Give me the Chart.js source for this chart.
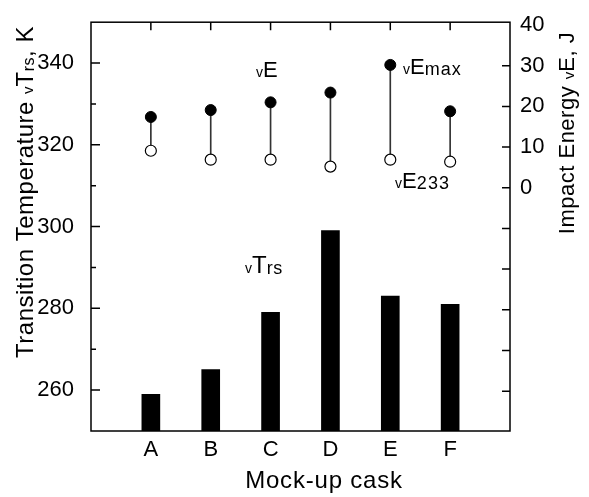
<!DOCTYPE html>
<html>
<head>
<meta charset="utf-8">
<title>Mock-up cask</title>
<script src="https://cdn.jsdelivr.net/npm/chart.js"></script>
<style>
    html, body { margin: 0; padding: 0; background: #fff; }
    #wrap { width: 589px; height: 497px; position: relative; }
</style>
</head>
<body>
<div id="wrap"><canvas id="caskChart"></canvas></div>
<script>
// Transition temperature (bars) and impact energy (dots) per mock-up cask

const categories = ['A', 'B', 'C', 'D', 'E', 'F'];
const transitionTemp = [259, 265, 279, 299, 283, 281];   // vTrs, K
const energyMax = [17.4, 19.1, 21.0, 23.4, 30.2, 18.8];  // vEmax, J
const energy233 = [9.1, 6.9, 6.9, 5.2, 6.9, 6.4];        // vE233, J
const tempTicks = [260, 280, 300, 320, 340];
const energyTicks = [0, 10, 20, 30, 40];
const energyBlankTicks = [-50, -40, -30, -20, -10];      // tick marks with no label

const FONT = '"Liberation Sans", Arial, sans-serif';

// one empty slot at each end of the x axis
const labels = [''].concat(categories, ['']);
function pad(arr) { return [null].concat(arr, [null]); }

// text made of pieces of different size (subscripts)
// part = [text, fontSize, letterSpacing, dy]
function drawRich(ctx, parts, x, y, angle, centered) {
    ctx.save();
    ctx.translate(x, y);
    if (angle) ctx.rotate(angle);
    ctx.fillStyle = '#000';
    ctx.textAlign = 'left';
    ctx.textBaseline = 'alphabetic';
    const widths = parts.map(function(p) {
        ctx.font = p[1] + 'px ' + FONT;
        ctx.letterSpacing = (p[2] || 0) + 'px';
        return ctx.measureText(p[0]).width;
    });
    const total = widths.reduce(function(s, w) { return s + w; }, 0);
    let cx = centered ? -total / 2 : 0;
    parts.forEach(function(p, i) {
        ctx.font = p[1] + 'px ' + FONT;
        ctx.letterSpacing = (p[2] || 0) + 'px';
        ctx.fillText(p[0], cx, p[3] || 0);
        cx += widths[i];
    });
    ctx.restore();
}

const framePlugin = {
    id: 'frame',
    afterDraw(chart) {
        const ctx = chart.ctx;
        const a = chart.chartArea;
        const x = chart.scales.x, y = chart.scales.y, y2 = chart.scales.y2;

        ctx.save();
        ctx.strokeStyle = '#000';
        ctx.lineWidth = 1.5;
        ctx.strokeRect(a.left, a.top, a.right - a.left, a.bottom - a.top);

        ctx.beginPath();
        // left axis, major and minor ticks pointing in
        tempTicks.forEach(function(v, i) {
            const py = y.getPixelForValue(v);
            ctx.moveTo(a.left, py); ctx.lineTo(a.left + 9, py);
            if (i < tempTicks.length - 1) {
                const pm = y.getPixelForValue((v + tempTicks[i + 1]) / 2);
                ctx.moveTo(a.left, pm); ctx.lineTo(a.left + 5, pm);
            }
        });
        // right axis
        energyTicks.concat(energyBlankTicks).forEach(function(v) {
            if (v === 40) return;
            const py = y2.getPixelForValue(v);
            ctx.moveTo(a.right, py); ctx.lineTo(a.right - 8, py);
        });
        // top ticks over each cask
        categories.forEach(function(c, i) {
            const px = x.getPixelForValue(i + 1);
            ctx.moveTo(px, a.top); ctx.lineTo(px, a.top + 8);
        });
        ctx.stroke();
        ctx.restore();

        // axis titles
        drawRich(ctx, [['Transition Temperature ', 24, 0.5], ['v', 15, 0], ['T', 24, 0.5], ['rs', 16, 0.5, 1], [', K', 24, 0.5]],
            33, 192, -Math.PI / 2, true);
        drawRich(ctx, [['Impact Energy ', 22, 0.5], ['v', 15, 0], ['E', 22, 0.5], [', J', 22, 0.5]],
            574, 133, -Math.PI / 2, true);
        drawRich(ctx, [['Mock-up cask', 24, 0.8]], 324, 488, 0, true);

        // labels inside the plot
        drawRich(ctx, [['v', 14, 0], ['E', 22, 0]], 256, 77);
        drawRich(ctx, [['v', 14, 0], ['E', 22, 0], ['max', 18, 1.0, 1]], 403, 74);
        drawRich(ctx, [['v', 14, 0], ['E', 22, 0], ['233', 18, 1.2, 1]], 395, 188);
        drawRich(ctx, [['v', 14, 0], ['T', 24, 0], ['rs', 18, 0.5, 1]], 245, 273);
    }
};

const ctx = document.getElementById('caskChart').getContext('2d');

new Chart(ctx, {
    type: 'bar',
    data: {
        labels: labels,
        datasets: [
            {
                type: 'line',
                label: 'vEmax',
                data: pad(energyMax),
                yAxisID: 'y2',
                showLine: false,
                pointRadius: 5.5,
                pointBackgroundColor: '#000',
                pointBorderColor: '#000',
                pointBorderWidth: 1,
                order: 1
            },
            {
                type: 'line',
                label: 'vE233',
                data: pad(energy233),
                yAxisID: 'y2',
                showLine: false,
                pointRadius: 5.5,
                pointBackgroundColor: '#fff',
                pointBorderColor: '#000',
                pointBorderWidth: 1.2,
                order: 2
            },
            {
                label: 'range',
                data: pad(categories.map(function(c, i) { return [energy233[i], energyMax[i]]; })),
                yAxisID: 'y2',
                backgroundColor: '#333',
                barThickness: 1,
                grouped: false,
                order: 3
            },
            {
                label: 'vTrs',
                data: pad(transitionTemp),
                yAxisID: 'y',
                backgroundColor: '#000',
                borderWidth: 0,
                barThickness: 18,
                grouped: false,
                order: 4
            }
        ]
    },
    options: {
        responsive: true,
        maintainAspectRatio: false,
        animation: false,
        layout: { padding: { top: 17, left: 0, right: 0, bottom: 0 } },
        plugins: {
            legend: { display: false },
            tooltip: { enabled: false }
        },
        scales: {
            x: {
                type: 'category',
                offset: false,
                grid: { display: false },
                border: { display: false },
                ticks: {
                    autoSkip: false,
                    maxRotation: 0,
                    padding: -2,
                    color: '#000',
                    font: { family: FONT, size: 22 }
                },
                afterFit: function(s) { s.height = 66; }
            },
            y: {
                position: 'left',
                min: 250,
                max: 350,
                grid: { display: false },
                border: { display: false },
                afterBuildTicks: function(s) {
                    s.ticks = tempTicks.map(function(v) { return { value: v }; });
                },
                ticks: {
                    padding: 9,
                    color: '#000',
                    font: { family: FONT, size: 22 }
                },
                afterFit: function(s) { s.width = 91; }
            },
            y2: {
                position: 'right',
                min: -59.8,
                max: 40.7,
                grid: { display: false },
                border: { display: false },
                afterBuildTicks: function(s) {
                    s.ticks = energyTicks.map(function(v) { return { value: v }; });
                },
                ticks: {
                    padding: 2,
                    color: '#000',
                    font: { family: FONT, size: 22 }
                },
                afterFit: function(s) { s.width = 79; }
            }
        }
    },
    plugins: [framePlugin]
});
</script>
</body>
</html>
